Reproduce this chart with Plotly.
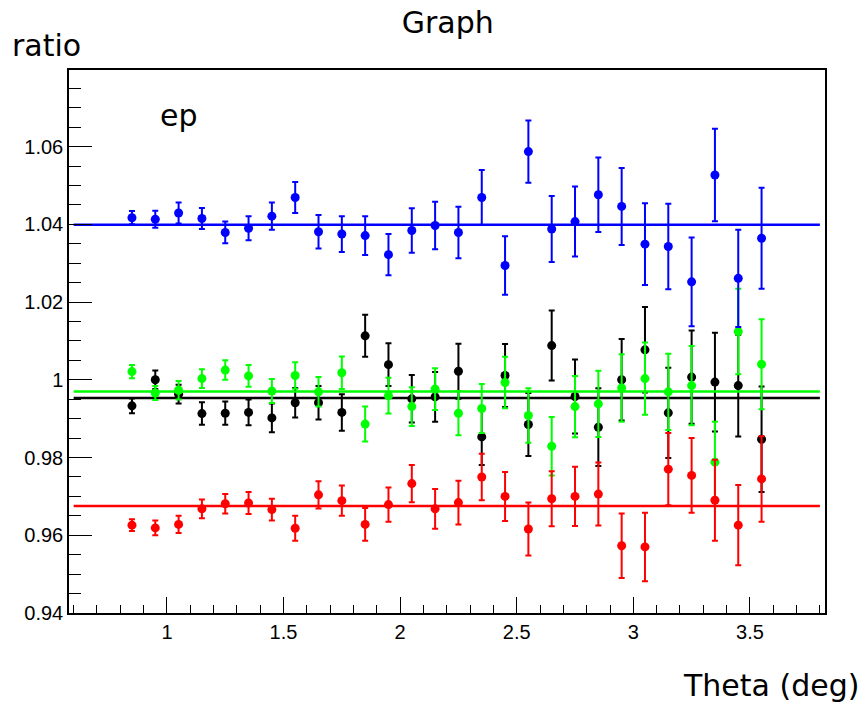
import plotly.graph_objects as go

# Polar-angle bins (deg)
theta = [0.85, 0.95, 1.05, 1.15, 1.25, 1.35, 1.45, 1.55, 1.65, 1.75,
         1.85, 1.95, 2.05, 2.15, 2.25, 2.35, 2.45, 2.55, 2.65, 2.75,
         2.85, 2.95, 3.05, 3.15, 3.25, 3.35, 3.45, 3.55]

# Blue series
ratio_blue = [1.0417, 1.0413, 1.0429, 1.0415, 1.0379, 1.0390, 1.0421, 1.0469, 1.0381, 1.0375,
              1.0371, 1.0322, 1.0384, 1.0397, 1.0379, 1.0469, 1.0294, 1.0587, 1.0388, 1.0407,
              1.0476, 1.0446, 1.0349, 1.0343, 1.0252, 1.0527, 1.0261, 1.0364]
err_blue = [0.0017, 0.0022, 0.0027, 0.0027, 0.0028, 0.0031, 0.0035, 0.0040, 0.0043, 0.0046,
            0.0050, 0.0053, 0.0057, 0.0061, 0.0066, 0.0071, 0.0075, 0.0080, 0.0085, 0.0090,
            0.0096, 0.0099, 0.0105, 0.0110, 0.0114, 0.0119, 0.0125, 0.0130]

# Black series
ratio_black = [0.9933, 1.0000, 0.9963, 0.9913, 0.9914, 0.9916, 0.9902, 0.9941, 0.9941, 0.9916,
               1.0113, 1.0039, 0.9951, 0.9956, 1.0022, 0.9853, 1.0011, 0.9885, 1.0088, 0.9957,
               0.9878, 1.0000, 1.0077, 0.9915, 1.0007, 0.9994, 0.9985, 0.9847]
err_black = [0.0019, 0.0024, 0.0024, 0.0029, 0.0030, 0.0033, 0.0037, 0.0038, 0.0043, 0.0047,
             0.0054, 0.0055, 0.0061, 0.0064, 0.0071, 0.0072, 0.0081, 0.0081, 0.0090, 0.0095,
             0.0100, 0.0105, 0.0110, 0.0116, 0.0120, 0.0127, 0.0131, 0.0136]

# Green series
ratio_green = [1.0021, 0.9966, 0.9973, 1.0003, 1.0025, 1.0010, 0.9971, 1.0011, 0.9969, 1.0018,
               0.9886, 0.9959, 0.9931, 0.9976, 0.9914, 0.9926, 0.9993, 0.9908, 0.9829, 0.9931,
               0.9938, 0.9979, 1.0003, 0.9969, 0.9985, 0.9788, 1.0124, 1.0040]
err_green = [0.0017, 0.0018, 0.0024, 0.0024, 0.0025, 0.0028, 0.0031, 0.0034, 0.0038, 0.0042,
             0.0045, 0.0046, 0.0050, 0.0054, 0.0057, 0.0063, 0.0066, 0.0070, 0.0075, 0.0079,
             0.0085, 0.0087, 0.0093, 0.0098, 0.0102, 0.0104, 0.0110, 0.0116]

# Red series
ratio_red = [0.9626, 0.9619, 0.9628, 0.9668, 0.9681, 0.9683, 0.9666, 0.9618, 0.9704, 0.9689,
             0.9628, 0.9679, 0.9733, 0.9668, 0.9684, 0.9750, 0.9700, 0.9616, 0.9694, 0.9700,
             0.9706, 0.9573, 0.9570, 0.9770, 0.9754, 0.9690, 0.9626, 0.9745]
err_red = [0.0015, 0.0019, 0.0022, 0.0024, 0.0025, 0.0028, 0.0028, 0.0032, 0.0035, 0.0039,
           0.0042, 0.0044, 0.0048, 0.0051, 0.0056, 0.0060, 0.0063, 0.0068, 0.0071, 0.0076,
           0.0081, 0.0083, 0.0088, 0.0093, 0.0096, 0.0104, 0.0103, 0.0110]

# Constant fits (p0) and fit range
fit_blue, fit_black, fit_green, fit_red = 1.0399, 0.9953, 0.9970, 0.9675
fit_range = [0.6, 3.8]

x_ticks = [1, 1.5, 2, 2.5, 3, 3.5]
x_ticklabels = ["1", "1.5", "2", "2.5", "3", "3.5"]
y_ticks = [0.94, 0.96, 0.98, 1.00, 1.02, 1.04, 1.06]
y_ticklabels = ["0.94", "0.96", "0.98", "1", "1.02", "1.04", "1.06"]

series = [
    ("black", ratio_black, err_black, fit_black, "#000000"),
    ("green", ratio_green, err_green, fit_green, "#00ff00"),
    ("red", ratio_red, err_red, fit_red, "#ff0000"),
    ("blue", ratio_blue, err_blue, fit_blue, "#0000ff"),
]

fig = go.Figure()
for name, vals, errs, p0, col in series:
    fig.add_trace(go.Scatter(
        x=theta, y=vals, mode="markers", name=name,
        marker=dict(color=col, size=9, symbol="circle"),
        error_y=dict(type="data", array=errs, visible=True,
                     color=col, thickness=2, width=3),
        showlegend=False,
    ))
    fig.add_trace(go.Scatter(
        x=fit_range, y=[p0, p0], mode="lines",
        line=dict(color=col, width=2.5), showlegend=False,
        hoverinfo="skip",
    ))

axis_font = dict(family="Liberation Sans, Arial, sans-serif", size=20, color="black")
title_font = dict(family="DejaVu Sans, sans-serif", size=30, color="black")

fig.update_layout(
    width=861, height=705,
    margin=dict(l=69, r=36, t=70, b=92),
    paper_bgcolor="white", plot_bgcolor="white",
    title=dict(text="Graph", x=0.52, xanchor="center", y=0.968, yanchor="middle",
               font=title_font),
    xaxis=dict(
        range=[0.58, 3.822], tickmode="array", tickvals=x_ticks, ticktext=x_ticklabels,
        ticks="inside", ticklen=16, tickwidth=1.2, tickcolor="black",
        minor=dict(tickmode="linear", tick0=0.6, dtick=0.1, ticks="inside",
                   ticklen=8, tickwidth=1.2, tickcolor="black", showgrid=False),
        showline=True, linecolor="black", linewidth=1.5, mirror=True,
        showgrid=False, zeroline=False, tickfont=axis_font,
    ),
    yaxis=dict(
        range=[0.94, 1.0797], tickmode="array", tickvals=y_ticks, ticktext=y_ticklabels,
        ticks="inside", ticklen=23, tickwidth=1.2, tickcolor="black",
        minor=dict(tickmode="linear", tick0=0.94, dtick=0.005, ticks="inside",
                   ticklen=12, tickwidth=1.2, tickcolor="black", showgrid=False),
        showline=True, linecolor="black", linewidth=1.5, mirror=True,
        showgrid=False, zeroline=False, tickfont=axis_font,
    ),
    annotations=[
        dict(text="ratio", xref="paper", yref="paper", x=-0.078, y=1.046,
             xanchor="left", yanchor="middle", showarrow=False, font=title_font),
        dict(text="Theta (deg)", xref="paper", yref="paper", x=1.048, y=-0.134,
             xanchor="right", yanchor="middle", showarrow=False, font=title_font),
        dict(text="ep", xref="x", yref="y", x=0.96, y=1.0679,
             xanchor="left", yanchor="middle", showarrow=False, font=title_font),
    ],
)

fig.write_html("out.html")
